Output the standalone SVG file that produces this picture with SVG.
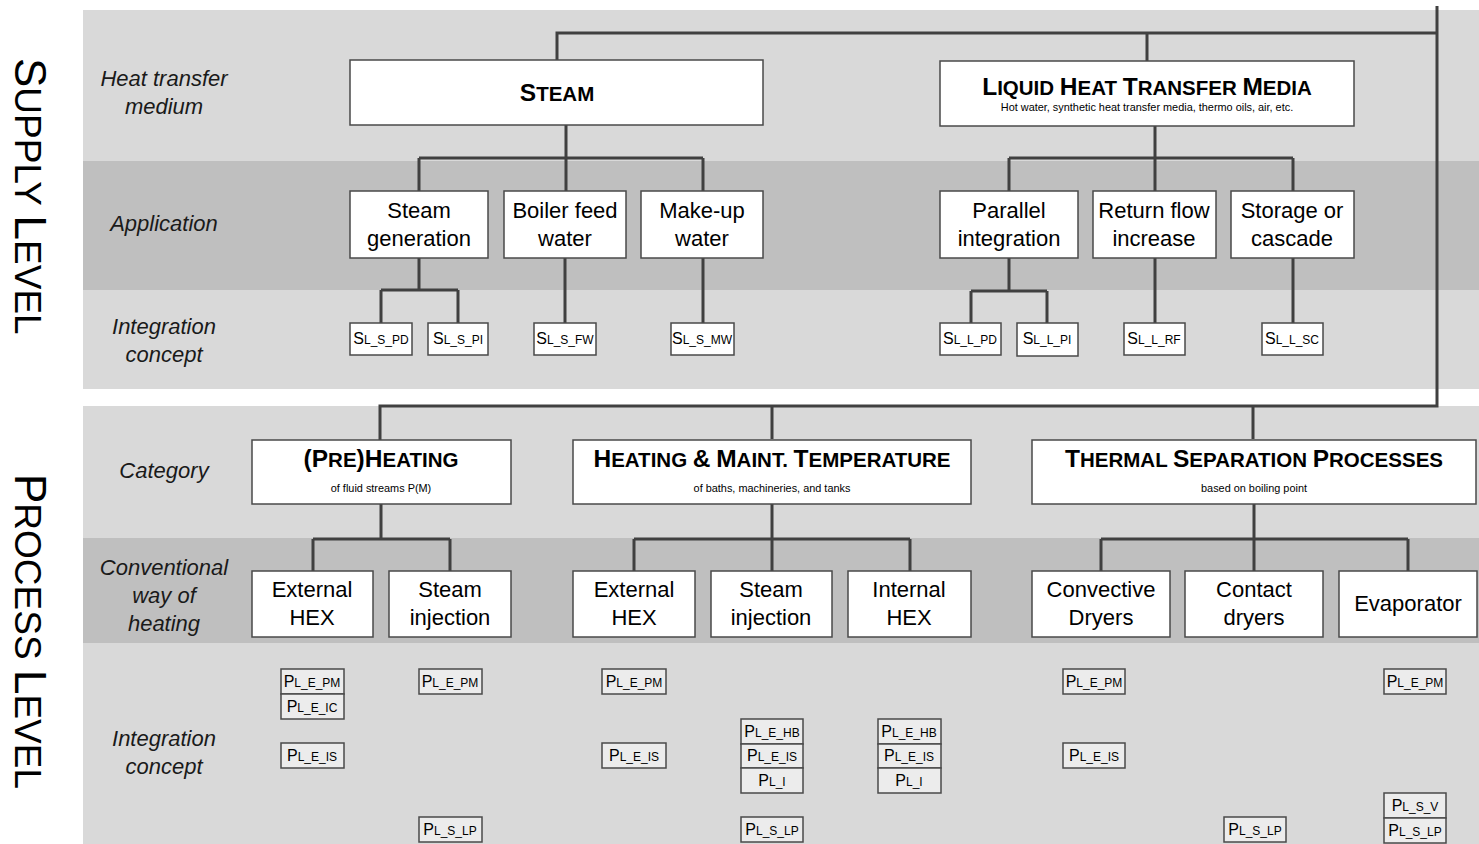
<svg xmlns="http://www.w3.org/2000/svg" width="1479" height="844" viewBox="0 0 1479 844">
<style>
.bl{fill:#d9d9d9}.bd{fill:#bfbfbf}
.box{fill:#fff;stroke:#4a4a4a;stroke-width:1.5}
.sc{fill:#fff;stroke:#4a4a4a;stroke-width:1.5}
.pc{fill:#ececec;stroke:#4a4a4a;stroke-width:1.5}
.conn{fill:none;stroke:#404040;stroke-width:3}
text{font-family:"Liberation Sans",Arial,sans-serif;fill:#000}
.lab{font-size:22px;font-style:italic;text-anchor:middle;fill:#1a1a1a}
.lvl{font-size:37px}
.lvl .B{font-size:44px}
.t{font-size:20.5px;font-weight:bold;text-anchor:middle}
.t .B{font-size:24.5px}
.sub{font-size:10.9px;text-anchor:middle}
.app{font-size:22px;text-anchor:middle}
.code{font-size:12px;text-anchor:middle}
.code .B{font-size:16px}
</style>
<g id="bands">
<rect class="bl" x="83" y="10" width="1396" height="379"/>
<rect class="bd" x="83" y="161" width="1396" height="129"/>
<rect class="bl" x="83" y="406" width="1396" height="438"/>
<rect class="bd" x="83" y="538" width="1396" height="105"/>
</g>
<g id="labels">
<text class="lvl" transform="translate(15,58) rotate(90)"><tspan class="B">S</tspan>UPPLY <tspan class="B">L</tspan>EVEL</text>
<text class="lvl" transform="translate(15,474) rotate(90)"><tspan class="B">P</tspan>ROCESS <tspan class="B">L</tspan>EVEL</text>
<text class="lab" x="164" y="86">Heat transfer</text>
<text class="lab" x="164" y="114">medium</text>
<text class="lab" x="164" y="231">Application</text>
<text class="lab" x="164" y="334">Integration</text>
<text class="lab" x="164" y="362">concept</text>
<text class="lab" x="164" y="478">Category</text>
<text class="lab" x="164" y="575">Conventional</text>
<text class="lab" x="164" y="603">way of</text>
<text class="lab" x="164" y="631">heating</text>
<text class="lab" x="164" y="746">Integration</text>
<text class="lab" x="164" y="774">concept</text>
</g>
<g id="connectors">
<path class="conn" d="M557,60V33H1437M1147,61V33M1437,6V406H380V440M772,406V439M1253,406V439"/>
<path class="conn" d="M566,125V158M419,158H703M419,158V191M566,158V191M703,158V191"/>
<path class="conn" d="M1155,126V158M1009,158H1293M1009,158V191M1155,158V191M1293,158V191"/>
<path class="conn" d="M419,258V290M381,290H458M381,290V323M458,290V323M565,258V323M703,258V323"/>
<path class="conn" d="M1009,258V291M971,291H1047M971,291V323M1047,291V323M1155,258V323M1293,258V323"/>
<path class="conn" d="M381,504V539M313,539H450M313,539V571M450,539V571"/>
<path class="conn" d="M772,504V539M634,539H910M634,539V571M772,539V571M910,539V571"/>
<path class="conn" d="M1254,504V539M1101,539H1408M1101,539V571M1254,539V571M1408,539V571"/>
</g>
<g id="n-steam"><rect class="box" x="350" y="60" width="413" height="65"/><text class="t" x="557" y="101"><tspan class="B">S</tspan>TEAM</text></g>
<g id="n-liquid"><rect class="box" x="940" y="61" width="414" height="65"/><text class="t" x="1147" y="95"><tspan class="B">L</tspan>IQUID <tspan class="B">H</tspan>EAT <tspan class="B">T</tspan>RANSFER <tspan class="B">M</tspan>EDIA</text><text class="sub" x="1147" y="111">Hot water, synthetic heat transfer media, thermo oils, air, etc.</text></g>
<g id="n-steamgen"><rect class="box" x="350" y="191" width="138" height="67"/><text class="app" x="419" y="218">Steam</text><text class="app" x="419" y="246">generation</text></g>
<g id="n-boiler"><rect class="box" x="504" y="191" width="122" height="67"/><text class="app" x="565" y="218">Boiler feed</text><text class="app" x="565" y="246">water</text></g>
<g id="n-makeup"><rect class="box" x="641" y="191" width="122" height="67"/><text class="app" x="702" y="218">Make-up</text><text class="app" x="702" y="246">water</text></g>
<g id="n-parallel"><rect class="box" x="940" y="191" width="138" height="67"/><text class="app" x="1009" y="218">Parallel</text><text class="app" x="1009" y="246">integration</text></g>
<g id="n-return"><rect class="box" x="1093" y="191" width="123" height="67"/><text class="app" x="1154" y="218">Return flow</text><text class="app" x="1154" y="246">increase</text></g>
<g id="n-storage"><rect class="box" x="1231" y="191" width="123" height="67"/><text class="app" x="1292" y="218">Storage or</text><text class="app" x="1292" y="246">cascade</text></g>
<g id="n-sl-s-pd"><rect class="sc" x="350" y="323" width="62" height="32"/><text class="code" x="381" y="344"><tspan class="B">S</tspan>L_S_PD</text></g>
<g id="n-sl-s-pi"><rect class="sc" x="428" y="323" width="60" height="32"/><text class="code" x="458" y="344"><tspan class="B">S</tspan>L_S_PI</text></g>
<g id="n-sl-s-fw"><rect class="sc" x="534" y="323" width="62" height="32"/><text class="code" x="565" y="344"><tspan class="B">S</tspan>L_S_FW</text></g>
<g id="n-sl-s-mw"><rect class="sc" x="671" y="323" width="63" height="32"/><text class="code" x="702" y="344"><tspan class="B">S</tspan>L_S_MW</text></g>
<g id="n-sl-l-pd"><rect class="sc" x="940" y="323" width="61" height="32"/><text class="code" x="970" y="344"><tspan class="B">S</tspan>L_L_PD</text></g>
<g id="n-sl-l-pi"><rect class="sc" x="1017" y="323" width="61" height="33"/><text class="code" x="1047" y="344"><tspan class="B">S</tspan>L_L_PI</text></g>
<g id="n-sl-l-rf"><rect class="sc" x="1124" y="323" width="61" height="32"/><text class="code" x="1154" y="344"><tspan class="B">S</tspan>L_L_RF</text></g>
<g id="n-sl-l-sc"><rect class="sc" x="1262" y="323" width="61" height="32"/><text class="code" x="1292" y="344"><tspan class="B">S</tspan>L_L_SC</text></g>
<g id="n-preheating"><rect class="box" x="252" y="440" width="259" height="64"/><text class="t" x="381" y="467"><tspan class="B">(P</tspan>RE<tspan class="B">)H</tspan>EATING</text><text class="sub" x="381" y="492">of fluid streams P(M)</text></g>
<g id="n-heating"><rect class="box" x="573" y="440" width="398" height="64"/><text class="t" x="772" y="467"><tspan class="B">H</tspan>EATING <tspan class="B">&amp;</tspan> <tspan class="B">M</tspan>AINT. <tspan class="B">T</tspan>EMPERATURE</text><text class="sub" x="772" y="492">of baths, machineries, and tanks</text></g>
<g id="n-thermal"><rect class="box" x="1032" y="440" width="444" height="64"/><text class="t" x="1254" y="467"><tspan class="B">T</tspan>HERMAL <tspan class="B">S</tspan>EPARATION <tspan class="B">P</tspan>ROCESSES</text><text class="sub" x="1254" y="492">based on  boiling point</text></g>
<g id="n-exthex1"><rect class="box" x="252" y="571" width="121" height="66"/><text class="app" x="312" y="597">External</text><text class="app" x="312" y="625">HEX</text></g>
<g id="n-steaminj1"><rect class="box" x="389" y="571" width="122" height="66"/><text class="app" x="450" y="597">Steam</text><text class="app" x="450" y="625">injection</text></g>
<g id="n-exthex2"><rect class="box" x="573" y="571" width="122" height="66"/><text class="app" x="634" y="597">External</text><text class="app" x="634" y="625">HEX</text></g>
<g id="n-steaminj2"><rect class="box" x="711" y="571" width="121" height="66"/><text class="app" x="771" y="597">Steam</text><text class="app" x="771" y="625">injection</text></g>
<g id="n-inthex"><rect class="box" x="848" y="571" width="123" height="66"/><text class="app" x="909" y="597">Internal</text><text class="app" x="909" y="625">HEX</text></g>
<g id="n-convective"><rect class="box" x="1032" y="571" width="138" height="66"/><text class="app" x="1101" y="597">Convective</text><text class="app" x="1101" y="625">Dryers</text></g>
<g id="n-contact"><rect class="box" x="1185" y="571" width="138" height="66"/><text class="app" x="1254" y="597">Contact</text><text class="app" x="1254" y="625">dryers</text></g>
<g id="n-evaporator"><rect class="box" x="1339" y="571" width="138" height="66"/><text class="app" x="1408" y="611">Evaporator</text></g>
<g id="n-p1"><rect class="pc" x="281" y="669" width="63" height="25"/><text class="code" x="312" y="687"><tspan class="B">P</tspan>L_E_PM</text></g>
<g id="n-p2"><rect class="pc" x="281" y="694" width="63" height="25"/><text class="code" x="312" y="712"><tspan class="B">P</tspan>L_E_IC</text></g>
<g id="n-p3"><rect class="pc" x="281" y="743" width="63" height="25"/><text class="code" x="312" y="761"><tspan class="B">P</tspan>L_E_IS</text></g>
<g id="n-p4"><rect class="pc" x="419" y="669" width="63" height="25"/><text class="code" x="450" y="687"><tspan class="B">P</tspan>L_E_PM</text></g>
<g id="n-p5"><rect class="pc" x="419" y="817" width="63" height="25"/><text class="code" x="450" y="835"><tspan class="B">P</tspan>L_S_LP</text></g>
<g id="n-p6"><rect class="pc" x="602" y="669" width="64" height="25"/><text class="code" x="634" y="687"><tspan class="B">P</tspan>L_E_PM</text></g>
<g id="n-p7"><rect class="pc" x="602" y="743" width="64" height="25"/><text class="code" x="634" y="761"><tspan class="B">P</tspan>L_E_IS</text></g>
<g id="n-p8"><rect class="pc" x="741" y="719" width="62" height="25"/><text class="code" x="772" y="737"><tspan class="B">P</tspan>L_E_HB</text></g>
<g id="n-p9"><rect class="pc" x="741" y="744" width="62" height="24"/><text class="code" x="772" y="761"><tspan class="B">P</tspan>L_E_IS</text></g>
<g id="n-p10"><rect class="pc" x="741" y="768" width="62" height="25"/><text class="code" x="772" y="786"><tspan class="B">P</tspan>L_I</text></g>
<g id="n-p11"><rect class="pc" x="741" y="817" width="62" height="25"/><text class="code" x="772" y="835"><tspan class="B">P</tspan>L_S_LP</text></g>
<g id="n-p12"><rect class="pc" x="878" y="719" width="63" height="25"/><text class="code" x="909" y="737"><tspan class="B">P</tspan>L_E_HB</text></g>
<g id="n-p13"><rect class="pc" x="878" y="744" width="63" height="24"/><text class="code" x="909" y="761"><tspan class="B">P</tspan>L_E_IS</text></g>
<g id="n-p14"><rect class="pc" x="878" y="768" width="63" height="25"/><text class="code" x="909" y="786"><tspan class="B">P</tspan>L_I</text></g>
<g id="n-p15"><rect class="pc" x="1063" y="669" width="62" height="25"/><text class="code" x="1094" y="687"><tspan class="B">P</tspan>L_E_PM</text></g>
<g id="n-p16"><rect class="pc" x="1063" y="743" width="62" height="25"/><text class="code" x="1094" y="761"><tspan class="B">P</tspan>L_E_IS</text></g>
<g id="n-p17"><rect class="pc" x="1224" y="817" width="62" height="25"/><text class="code" x="1255" y="835"><tspan class="B">P</tspan>L_S_LP</text></g>
<g id="n-p18"><rect class="pc" x="1384" y="669" width="62" height="25"/><text class="code" x="1415" y="687"><tspan class="B">P</tspan>L_E_PM</text></g>
<g id="n-p19"><rect class="pc" x="1384" y="793" width="62" height="25"/><text class="code" x="1415" y="811"><tspan class="B">P</tspan>L_S_V</text></g>
<g id="n-p20"><rect class="pc" x="1384" y="818" width="62" height="25"/><text class="code" x="1415" y="836"><tspan class="B">P</tspan>L_S_LP</text></g>
</svg>
